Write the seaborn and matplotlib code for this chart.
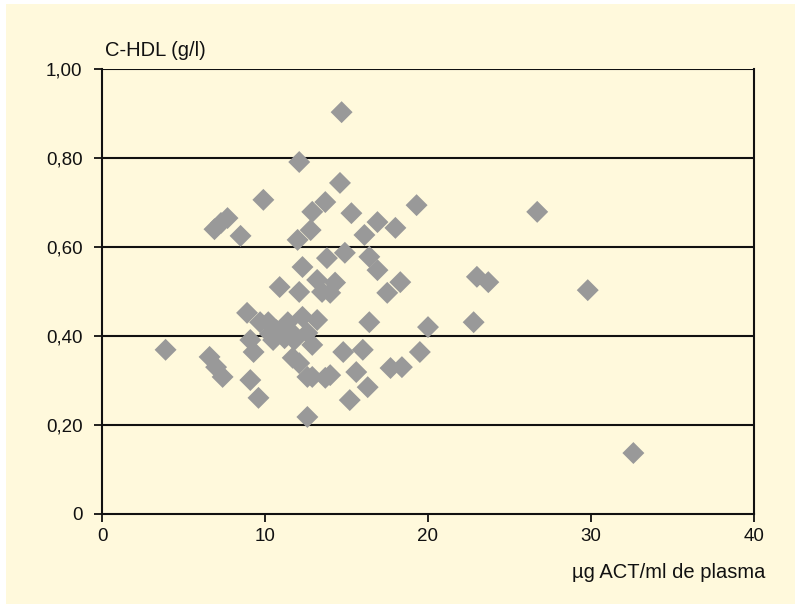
import matplotlib
matplotlib.use("Agg")
import matplotlib.pyplot as plt
import matplotlib.patches as mpatches
import seaborn as sns
import pandas as pd

# µg ACT per ml of plasma
act = [3.9, 6.6, 7.0, 7.4, 6.9, 7.3, 7.7, 8.5, 9.9, 8.9,
       9.7, 9.1, 9.3, 9.1, 9.6, 10.7, 10.5, 10.9, 12.1, 12.3,
       12.6, 11.5, 12.1, 12.9, 14.0, 12.6, 12.1, 12.0, 12.8, 12.9,
       13.7, 14.6, 14.7, 15.3, 16.1, 16.9, 18.0, 19.3, 26.7, 12.3,
       13.2, 14.0, 13.8, 14.9, 16.4, 16.9, 17.5, 18.3, 16.4, 20.0,
       22.8, 23.0, 23.7, 29.8, 32.6, 14.8, 16.0, 15.6, 16.3, 15.2,
       17.7, 18.4, 19.5, 13.2, 11.7, 12.6, 13.7, 10.3, 11.2, 14.3,
       11.4, 12.9, 11.8, 13.5, 10.2]
# HDL cholesterol (g/l)
hdl = [0.369, 0.353, 0.330, 0.308, 0.640, 0.654, 0.665, 0.625, 0.706, 0.452,
       0.431, 0.391, 0.364, 0.301, 0.261, 0.413, 0.391, 0.510, 0.499, 0.443,
       0.407, 0.413, 0.339, 0.308, 0.312, 0.218, 0.791, 0.616, 0.638, 0.679,
       0.701, 0.744, 0.903, 0.676, 0.627, 0.656, 0.643, 0.694, 0.679, 0.555,
       0.526, 0.497, 0.575, 0.587, 0.578, 0.548, 0.497, 0.521, 0.431, 0.420,
       0.431, 0.533, 0.521, 0.503, 0.137, 0.364, 0.369, 0.319, 0.285, 0.256,
       0.328, 0.330, 0.364, 0.436, 0.351, 0.308, 0.306, 0.405, 0.395, 0.520,
       0.431, 0.380, 0.391, 0.499, 0.431]

x_ticks = [0, 10, 20, 30, 40]
y_ticks = [0, 0.2, 0.4, 0.6, 0.8, 1.0]
y_tick_labels = ["0", "0,20", "0,40", "0,60", "0,80", "1,00"]

cream = "#FFF9DC"
sns.set_style("white")
plt.rcParams["font.family"] = ["Liberation Sans", "DejaVu Sans"]

fig = plt.figure(figsize=(7.95, 6.05), dpi=100, facecolor="white")
fig.patches.append(mpatches.Rectangle((6 / 795, 1 / 605), 1, 600 / 605,
                                      transform=fig.transFigure,
                                      facecolor=cream, edgecolor="none",
                                      zorder=-10))
ax = fig.add_axes([102 / 795, 1 - 514 / 605, 652 / 795, 445 / 605])
ax.set_zorder(5)
ax.set_facecolor(cream)

df = pd.DataFrame({"act": act, "hdl": hdl})
sns.scatterplot(data=df, x="act", y="hdl", marker="D", s=125,
                color="#999999", edgecolor="none", linewidth=0,
                ax=ax, zorder=3)

ax.set_xlim(0, 40)
ax.set_ylim(0, 1.0)
ax.set_xticks(x_ticks)
ax.set_xticklabels([str(v) for v in x_ticks])
ax.set_yticks(y_ticks)
ax.set_yticklabels(y_tick_labels)

for yv in y_ticks[1:]:
    ax.axhline(yv, color="#111111", linewidth=1.5, zorder=1)

for side in ["left", "bottom", "right"]:
    ax.spines[side].set_visible(True)
    ax.spines[side].set_color("#111111")
    ax.spines[side].set_linewidth(1.5)
ax.spines["top"].set_visible(False)

ax.tick_params(axis="both", which="major", direction="out", length=6,
               width=1.3, color="#111111", labelsize=13.5,
               labelcolor="#111111")
ax.tick_params(axis="x", bottom=True, pad=4)
ax.tick_params(axis="y", left=True, pad=8)

ax.set_xlabel("")
ax.set_ylabel("")
ax.text(0.005, 1.02, "C-HDL (g/l)", transform=ax.transAxes,
        ha="left", va="bottom", fontsize=14.5, color="#111111")
fig.text(765 / 795, 1 - 572 / 605, "µg ACT/ml de plasma",
         ha="right", va="center", fontsize=14.5, color="#111111")

fig.savefig("out.png", dpi=100, facecolor=fig.get_facecolor())
